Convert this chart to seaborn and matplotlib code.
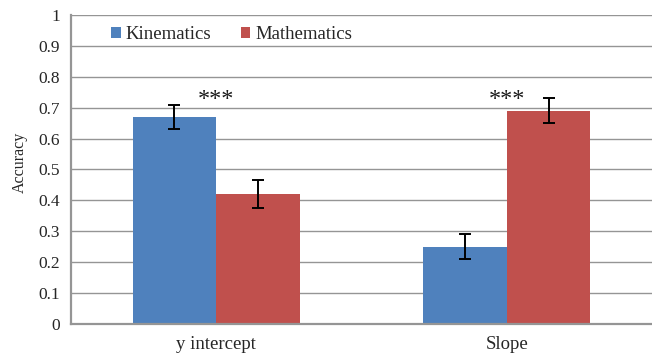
import matplotlib
matplotlib.use("Agg")
import matplotlib.pyplot as plt
import seaborn as sns
import pandas as pd
import numpy as np

# Mean accuracy per question type, with error bar half-widths
categories = ["y intercept", "Slope"]
groups = ["Kinematics", "Mathematics"]
kinematics = [0.67, 0.25]
mathematics = [0.42, 0.69]
kinematics_err = [0.04, 0.04]
mathematics_err = [0.045, 0.04]
significance = ["***", "***"]
y_ticks = [0, 0.1, 0.2, 0.3, 0.4, 0.5, 0.6, 0.7, 0.8, 0.9, 1]
y_tick_labels = ["0", "0.1", "0.2", "0.3", "0.4", "0.5", "0.6", "0.7", "0.8", "0.9", "1"]

df = pd.DataFrame({
    "Question": categories * 2,
    "Group": [groups[0]] * 2 + [groups[1]] * 2,
    "Accuracy": kinematics + mathematics,
    "Err": kinematics_err + mathematics_err,
})

sns.set_style("white")
plt.rcParams["font.family"] = ["Liberation Serif", "DejaVu Serif"]

palette = {"Kinematics": "#4F81BD", "Mathematics": "#C0504D"}
grid_col = "#959595"

fig = plt.figure(figsize=(6.52, 3.56), dpi=100)
ax = fig.add_axes([0.109, 0.090, 0.891, 0.868])

sns.barplot(data=df, x="Question", y="Accuracy", hue="Group", order=categories,
            hue_order=groups, palette=palette, width=0.576, errorbar=None,
            saturation=1, edgecolor="none", linewidth=0, ax=ax, zorder=2)

# error bars placed at the centre of each drawn bar
for container, grp in zip(ax.containers, groups):
    sub = df[df["Group"] == grp].set_index("Question").loc[categories]
    xs = [p.get_x() + p.get_width() / 2 for p in container.patches]
    hs = [p.get_height() for p in container.patches]
    ax.errorbar(xs, hs, yerr=sub["Err"].values, fmt="none", ecolor="black",
                elinewidth=1.4, capsize=4, capthick=1.4, zorder=3)

for i, s in enumerate(significance):
    ax.text(i, 0.728, s, ha="center", va="center", fontsize=17.5, color="#1a1a1a")

ax.set_ylim(0, 1)
ax.set_xlim(-0.5, 1.5)
ax.set_yticks(y_ticks)
ax.set_yticklabels(y_tick_labels, fontsize=12.5)
ax.yaxis.grid(True, color=grid_col, linewidth=1.0, zorder=0)
ax.set_axisbelow(True)

ax.set_xticks([0.5], minor=True)
ax.set_xticks([0, 1])
ax.set_xticklabels(categories, fontsize=13.5)
ax.tick_params(axis="x", which="major", length=0, pad=9)
ax.tick_params(axis="x", which="minor", length=4, width=1, color=grid_col, direction="out")
ax.tick_params(axis="y", length=5, width=1, color=grid_col, direction="out", pad=3)

ax.set_xlabel("")
ax.set_ylabel("Accuracy", fontsize=11.5)
ax.yaxis.set_label_coords(-0.074, 0.524)

for side in ["top", "right"]:
    ax.spines[side].set_visible(False)
for side in ["left", "bottom"]:
    ax.spines[side].set_color(grid_col)
    ax.spines[side].set_linewidth(1.6)

leg = ax.legend(loc="upper left", bbox_to_anchor=(0.05, 1.0), ncol=2, frameon=False,
                fontsize=13.5, handlelength=0.5, handleheight=0.5,
                handletextpad=0.25, columnspacing=1.6, borderaxespad=0.2)

fig.savefig("out.png", dpi=100)
